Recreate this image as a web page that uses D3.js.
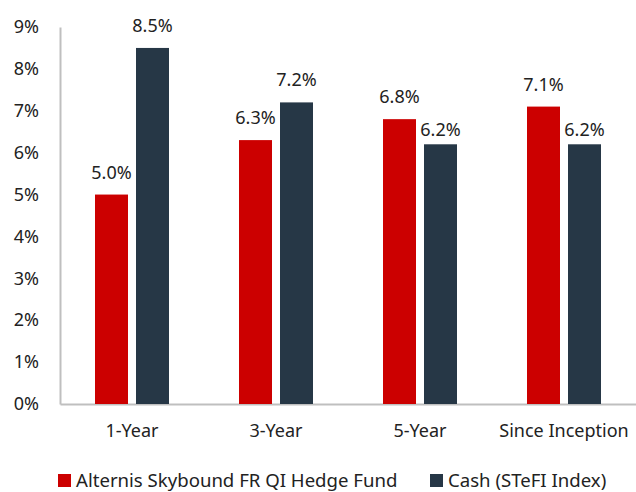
<!DOCTYPE html>
<meta charset="utf-8">
<style>
  body { margin: 0; background: #fff; }
  text { font-family: 'Noto Sans', sans-serif; fill: #222; }
</style>
<svg width="636" height="492"></svg>
<script src="https://d3js.org/d3.v7.min.js"></script>
<script>
var categories = ["1-Year", "3-Year", "5-Year", "Since Inception"];
var seriesNames = ["Alternis Skybound FR QI Hedge Fund", "Cash (STeFI Index)"];
var fundValues = [5.0, 6.3, 6.8, 7.1];
var cashValues = [8.5, 7.2, 6.2, 6.2];
var yTicks = [0, 1, 2, 3, 4, 5, 6, 7, 8, 9];
var colors = ["#cc0000", "#263746"];

var svg = d3.select("svg"),
    margin = { top: 27, right: 0, bottom: 88, left: 60 },
    width = +svg.attr("width") - margin.left - margin.right,
    height = +svg.attr("height") - margin.top - margin.bottom,
    g = svg.append("g").attr("transform", "translate(" + margin.left + "," + margin.top + ")");

var x = d3.scaleBand().domain(categories).range([0, width]);
var y = d3.scaleLinear().domain([0, 9]).range([height, 0]);
var barW = 33, gap = 8;

// y axis labels, no ticks
var ya = g.append("g").call(d3.axisLeft(y).tickValues(yTicks).tickFormat(function (d) { return d + "%"; }).tickSize(0).tickPadding(21));
ya.select(".domain").attr("stroke", "#bfbfbf").attr("stroke-width", 2);
ya.selectAll("text").style("font-size", "18px").attr("fill", "#222").style("font-family", "'Noto Sans', sans-serif");

var xa = g.append("g").attr("transform", "translate(0," + height + ")")
    .call(d3.axisBottom(x).tickSize(0).tickPadding(20));
xa.select(".domain").attr("stroke", "#bfbfbf").attr("stroke-width", 2);
xa.selectAll("text").style("font-size", "18px").attr("fill", "#222").style("font-family", "'Noto Sans', sans-serif");

var rows = categories.map(function (c, i) {
  return [{ c: c, s: 0, v: fundValues[i], other: cashValues[i] },
          { c: c, s: 1, v: cashValues[i], other: fundValues[i] }];
});
var flat = [].concat.apply([], rows);

function bx(d) {
  var mid = x(d.c) + x.bandwidth() / 2;
  return d.s === 0 ? mid - gap / 2 - barW : mid + gap / 2;
}

g.selectAll(".bar").data(flat).enter().append("rect")
  .attr("class", "bar")
  .attr("x", bx)
  .attr("y", function (d) { return y(d.v); })
  .attr("width", barW)
  .attr("height", function (d) { return height - y(d.v); })
  .attr("fill", function (d) { return colors[d.s]; });

g.selectAll(".lbl").data(flat).enter().append("text")
  .attr("class", "lbl")
  .attr("x", function (d) { return bx(d) + barW / 2; })
  .attr("y", function (d) {
    var lift = (d.s === 1 && d.v < d.other) ? 8 : 16;
    return y(d.v) - lift;
  })
  .attr("text-anchor", "middle")
  .style("font-size", "18px")
  .text(function (d) { return d.v.toFixed(1) + "%"; });

// legend
var leg = svg.append("g").attr("transform", "translate(0,474)");
var legX = [58, 430];
seriesNames.forEach(function (n, i) {
  leg.append("rect").attr("x", legX[i]).attr("y", 0).attr("width", 13).attr("height", 13).attr("fill", colors[i]);
  leg.append("text").attr("x", legX[i] + 18).attr("y", 13).style("font-size", "18.6px").text(n);
});
</script>
